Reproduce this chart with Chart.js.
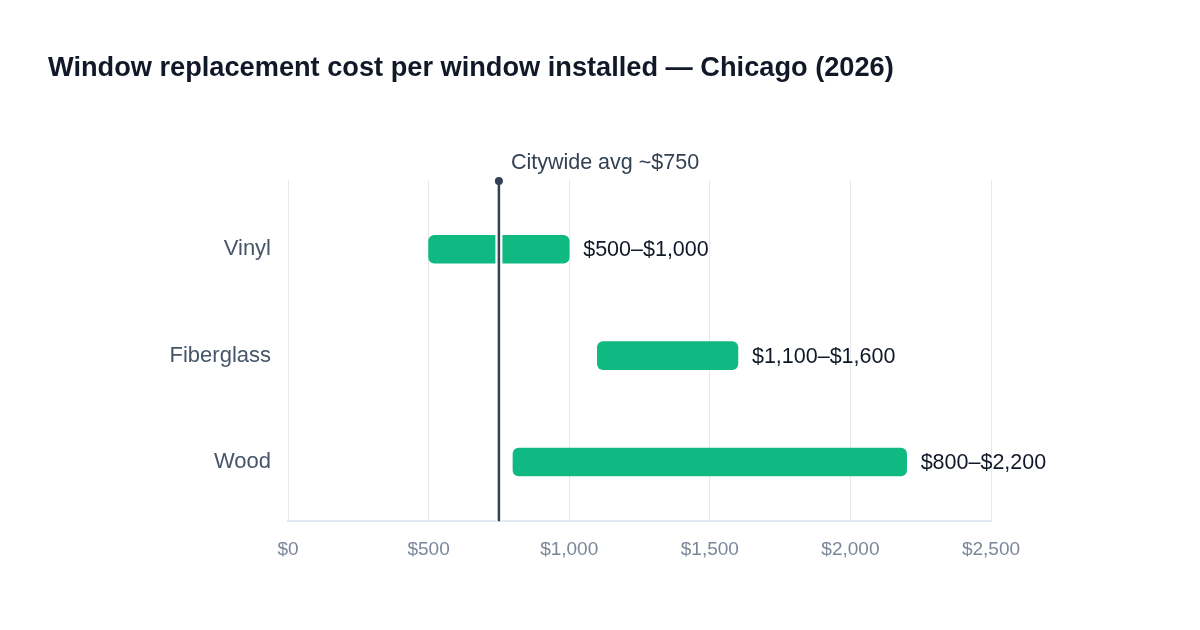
<!DOCTYPE html>
<html>
<head>
<meta charset="utf-8">
<script src="https://cdn.jsdelivr.net/npm/chart.js@4"></script>
<style>
  html, body { margin: 0; padding: 0; background: #ffffff; }
  #wrap { width: 1200px; height: 630px; }
</style>
</head>
<body>
<div id="wrap"><canvas id="costChart" width="1200" height="630"></canvas></div>
<script>
// data
const categories = ["Vinyl", "Fiberglass", "Wood"];
const lowValues = [500, 1100, 800];
const highValues = [1000, 1600, 2200];
const rangeLabels = ["$500–$1,000", "$1,100–$1,600", "$800–$2,200"];
const xTickValues = [0, 500, 1000, 1500, 2000, 2500];
const avgValue = 750;
const avgLabel = "Citywide avg ~$750";
const titleText = "Window replacement cost per window installed — Chicago (2026)";

const FONT = "'Liberation Sans', Arial, Helvetica, sans-serif";

// range text to the right of each bar
const rangeLabelPlugin = {
  id: "rangeLabels",
  afterDatasetsDraw(chart) {
    const ctx = chart.ctx;
    const meta = chart.getDatasetMeta(0);
    ctx.save();
    ctx.font = "21.5px " + FONT;
    ctx.fillStyle = "#111827";
    ctx.textAlign = "left";
    ctx.textBaseline = "middle";
    meta.data.forEach((bar, i) => {
      ctx.fillText(rangeLabels[i], bar.x + 14, bar.y + 1);
    });
    ctx.restore();
  },
};

// citywide average marker
const avgLinePlugin = {
  id: "avgLine",
  afterDatasetsDraw(chart) {
    const ctx = chart.ctx;
    const area = chart.chartArea;
    const x = chart.scales.x.getPixelForValue(avgValue);
    ctx.save();
    ctx.strokeStyle = "#ffffff";
    ctx.lineWidth = 7;
    ctx.beginPath();
    ctx.moveTo(x, area.top + 6);
    ctx.lineTo(x, area.bottom);
    ctx.stroke();

    ctx.strokeStyle = "#334155";
    ctx.lineWidth = 2.5;
    ctx.beginPath();
    ctx.moveTo(x, area.top);
    ctx.lineTo(x, area.bottom);
    ctx.stroke();

    ctx.fillStyle = "#334155";
    ctx.beginPath();
    ctx.arc(x, area.top + 1, 4, 0, Math.PI * 2);
    ctx.fill();

    ctx.font = "21.5px " + FONT;
    ctx.textAlign = "left";
    ctx.textBaseline = "middle";
    ctx.fillText(avgLabel, x + 12, area.top - 17);
    ctx.restore();
  },
};

const chartData = {
  datasets: [
    {
      data: categories.map((c, i) => ({ x: [lowValues[i], highValues[i]], y: i })),
      backgroundColor: "#10b981",
      borderSkipped: false,
      borderRadius: 6,
      barThickness: 28,
    },
  ],
};

new Chart(document.getElementById("costChart"), {
  type: "bar",
  data: chartData,
  options: {
    indexAxis: "y",
    responsive: false,
    animation: false,
    layout: { padding: { left: 48, right: 209, top: 0, bottom: 52 } },
    scales: {
      x: {
        type: "linear",
        min: 0,
        max: 2500,
        afterBuildTicks: (axis) => {
          axis.ticks = xTickValues.map((v) => ({ value: v }));
        },
        grid: { color: "#e5e7eb", lineWidth: 1, drawTicks: false },
        border: { color: "#e2e8f0", width: 2 },
        ticks: {
          padding: 17,
          color: "#7b8799",
          font: { family: FONT, size: 19 },
          callback: (v) => "$" + Number(v).toLocaleString("en-US"),
        },
      },
      y: {
        type: "linear",
        reverse: true,
        offset: false,
        min: -0.651,
        max: 2.557,
        afterBuildTicks: (axis) => {
          axis.ticks = categories.map((c, i) => ({ value: i }));
        },
        afterFit: (axis) => {
          axis.width = 240;
        },
        grid: { display: false, drawTicks: false },
        border: { display: false },
        ticks: {
          padding: 17,
          color: "#475569",
          font: { family: FONT, size: 22 },
          callback: (v) => categories[v] ?? "",
        },
      },
    },
    plugins: {
      legend: { display: false },
      tooltip: { enabled: false },
      title: {
        display: true,
        text: titleText,
        align: "start",
        color: "#111827",
        font: { family: FONT, size: 27.2, weight: "bold" },
        padding: { top: 52, bottom: 95.4 },
      },
    },
  },
  plugins: [rangeLabelPlugin, avgLinePlugin],
});
</script>
</body>
</html>
